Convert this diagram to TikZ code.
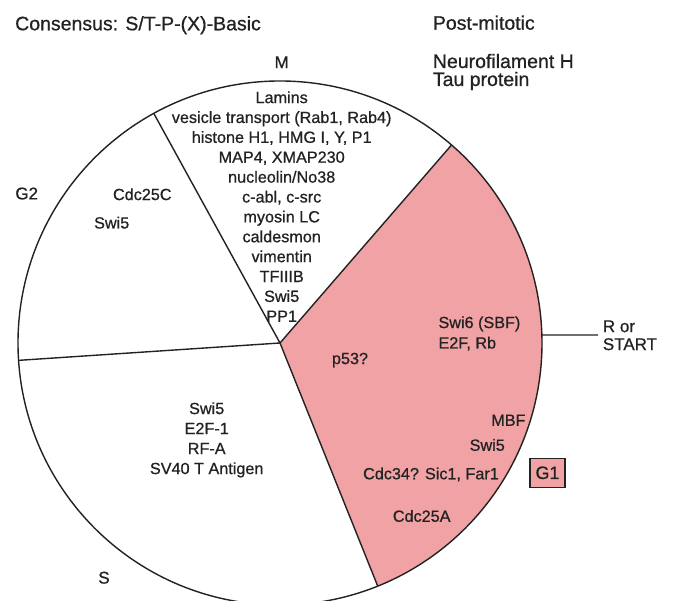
\documentclass[tikz,border=0pt]{standalone}
\usepackage{fontspec}
\setmainfont{Liberation Sans}[FakeBold=0.7]
\definecolor{pinkg1}{RGB}{240,162,165}
\definecolor{ink}{RGB}{34,34,34}
\begin{document}
\begin{tikzpicture}[x=1pt,y=1pt,
  small/.style={inner sep=0pt, text height=11.6pt, text depth=0pt, text=ink, font=\fontsize{16.2}{18}\selectfont},
  big/.style={inner sep=0pt, text height=14pt, text depth=0pt, text=ink, font=\fontsize{19.5}{20}\selectfont},
  phase/.style={inner sep=0pt, text height=12.2pt, text depth=0pt, text=ink, font=\fontsize{17}{18}\selectfont},
  edge/.style={draw=ink, line width=1.4pt},
  g1box/.style={draw=ink, line width=1.1pt, fill=pinkg1, minimum width=35pt, minimum height=29pt, inner sep=0pt, text=ink, font=\fontsize{18}{18}\selectfont}]
\useasboundingbox (0,0) rectangle (673,601);
\fill[white] (0,0) rectangle (673,601);
\coordinate (C) at (280,258);
\def\R{262}
% G1 sector
\fill[pinkg1] (C) -- ++(-68.1:\R) arc[start angle=-68.1, end angle=49.1, radius=\R] -- cycle;
\draw[edge] (C) circle[radius=\R];
\path (C) ++(118.8:\R) coordinate (bMG);
\path (C) ++(49.1:\R) coordinate (bMG1);
\path (C) ++(183.8:\R) coordinate (bGS);
\path (C) ++(-68.1:\R) coordinate (bSG1);
\draw[edge] (C) -- (bMG);
\draw[edge] (C) -- (bMG1);
\draw[edge] (C) -- (bGS);
\draw[edge] (C) -- (bSG1);
% header texts
\node[big, anchor=west] (cons) at (15,{601-23.3}) {Consensus: S/T-P-(X)-Basic};
\node[big, anchor=west] (post) at (432.7,{601-22.7}) {Post-mitotic};
\node[big, anchor=west] (neuro) at (432.7,{601-61}) {Neurofilament H};
\node[big, anchor=west] (tau) at (432.7,{601-79}) {Tau protein};
% phase labels
\node[phase] (M) at (281.7,{601-62}) {M};
\node[phase] (G2) at (26.7,{601-193.3}) {G2};
\node[phase] (S) at (104,{601-577.5}) {S};
% M list
\foreach \t [count=\i] in {{Lamins},{vesicle transport (Rab1, Rab4)},{histone H1, HMG I, Y, P1},{MAP4, XMAP230},{nucleolin/No38},{c-abl, c-src},{myosin LC},{caldesmon},{vimentin},{TFIIIB},{Swi5},{PP1}}
  \node[small] (m\i) at (281.7,{601-(97.3+19.88*(\i-1))}) {\t};
% G2 list
\node[small] (cdc25c) at (142.3,{601-194.3}) {Cdc25C};
\node[small] (g2swi5) at (111.7,{601-222.7}) {Swi5};
% S list
\node[small] (sswi5) at (206.7,{601-408.3}) {Swi5};
\node[small] (se2f) at (206.7,{601-428.3}) {E2F-1};
\node[small] (srfa) at (206.7,{601-448.3}) {RF-A};
\node[small] (ssv40) at (206.7,{601-468.3}) {SV40 T Antigen};
% G1 list
\node[small] (p53) at (350,{601-358.3}) {p53?};
\node[small, anchor=west] (swi6) at (438.3,{601-322.3}) {Swi6 (SBF)};
\node[small, anchor=west] (e2frb) at (438.3,{601-342.7}) {E2F, Rb};
\node[small, anchor=east] (mbf) at (525.7,{601-420}) {MBF};
\node[small, anchor=east] (g1swi5) at (505,{601-445}) {Swi5};
\node[small, anchor=east] (cdc34) at (499,{601-473.5}) {Cdc34? Sic1, Far1};
\node[small] (cdc25a) at (421.7,{601-516}) {Cdc25A};
\node[g1box] (G1) at (547.5,{601-472.8}) {G1};
% R or START
\path (C) ++(1.75:\R) coordinate (rpt);
\coordinate (rend) at (598,266);
\draw[edge, line width=1.2pt] (rpt) -- (rend);
\node[phase, anchor=west] (r1) at (602.7,{601-326}) {R or};
\node[phase, anchor=west] (r2) at (602.7,{601-344}) {START};
\end{tikzpicture}
\end{document}
